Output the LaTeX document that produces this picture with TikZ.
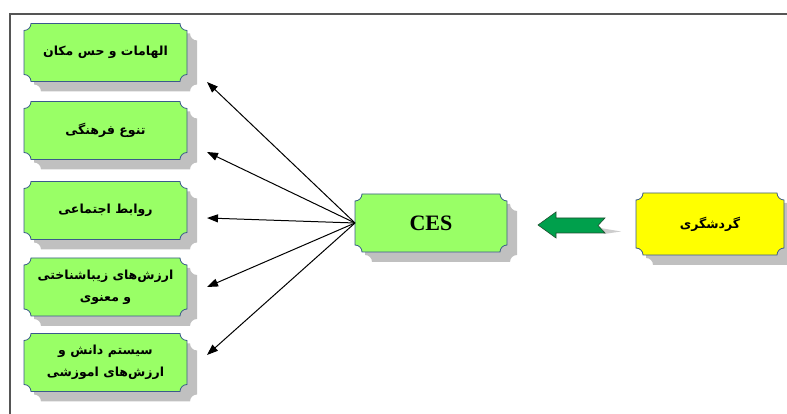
\documentclass[tikz,border=0pt]{standalone}
\usepackage{fontspec}
\setmainfont{Liberation Serif}
\newfontfamily\fafont[Script=Arabic]{DejaVu Sans}
\TeXXeTstate=1
\usetikzlibrary{arrows.meta,backgrounds,calc}
\definecolor{boxgreen}{HTML}{99FF66}
\definecolor{boxyellow}{HTML}{FFFF00}
\definecolor{boxline}{HTML}{3A5A8C}
\definecolor{shadowgray}{HTML}{C0C0C0}
\definecolor{arrowgreen}{HTML}{00A04C}
\definecolor{arrowdark}{HTML}{1F4F2F}
\definecolor{framegray}{HTML}{555555}
% plaque outline (rectangle with concave corners) round a node, shifted by (#2,#3)
\newcommand\plaque[4]{%
  \path[#4] let \p1=(#1.south west), \p2=(#1.north east),
      \p3=($(\x1+#2,\y1+#3)$), \p4=($(\x2+#2,\y2+#3)$) in
    (\x3+7pt,\y4) -- (\x4-7pt,\y4) arc[start angle=180,end angle=270,radius=7pt]
    -- (\x4,\y3+7pt) arc[start angle=90,end angle=180,radius=7pt]
    -- (\x3+7pt,\y3) arc[start angle=0,end angle=90,radius=7pt]
    -- (\x3,\y4-7pt) arc[start angle=270,end angle=360,radius=7pt] -- cycle;}
\newcommand\plaquebox[2]{%
  \plaque{#1}{10pt}{-10pt}{shadowstyle}%
  \plaque{#1}{0pt}{0pt}{facestyle, fill=#2}}
\tikzset{
  plaq/.style={inner sep=0pt, outer sep=0pt, align=center},
  leftbox/.style={plaq, minimum width=163pt, minimum height=58pt,
    font=\fafont\bfseries\fontsize{12.5}{22}\selectfont},
  conn/.style={-{Triangle[length=11pt,width=8pt]}, line width=1pt, black},
  shadowstyle/.style={fill=shadowgray},
  facestyle/.style={draw=boxline, line width=0.8pt},
  frame/.style={draw=framegray, line width=1.5pt},
  bigarrow/.style={fill=arrowgreen, draw=arrowdark, line width=0.6pt, line join=miter}
}
\begin{document}
\begin{tikzpicture}[x=1pt,y=1pt]
\useasboundingbox (0,0) rectangle (787,414);
% frame
\draw[frame] (10,0) -- (10,400) -- (787,400);

% left boxes
\node[leftbox] (b1) at (105.5,361.5) {\beginR الهامات و حس مکان\endR};
\node[leftbox] (b2) at (105.5,283.5) {\beginR تنوع فرهنگی\endR};
\node[leftbox] (b3) at (105.5,203.5) {\beginR روابط اجتماعی\endR};
\node[leftbox] (b4) at (105.5,127) {\beginR ارزش‌های زیباشناختی\endR\\\beginR و معنوی\endR};
\node[leftbox] (b5) at (105.5,51.5) {\beginR سیستم دانش و\endR\\\beginR ارزش‌های اموزشی\endR};

% centre and right boxes
\node[plaq, minimum width=152pt, minimum height=58pt,
  font=\bfseries\fontsize{22}{26}\selectfont] (ces) at (431,191) {CES};
\node[plaq, minimum width=148pt, minimum height=62pt,
  font=\fafont\bfseries\fontsize{12.5}{22}\selectfont] (yel) at (710,190) {\beginR گردشگری\endR};

\begin{scope}[on background layer]
\plaquebox{b1}{boxgreen}
\plaquebox{b2}{boxgreen}
\plaquebox{b3}{boxgreen}
\plaquebox{b4}{boxgreen}
\plaquebox{b5}{boxgreen}
\plaquebox{ces}{boxgreen}
\plaquebox{yel}{boxyellow}
\end{scope}

% arrow targets
\coordinate (t1) at (207,332);
\coordinate (t2) at (207,262);
\coordinate (t3) at (207,196);
\coordinate (t4) at (207,127);
\coordinate (t5) at (207,59);
\draw[conn] (ces.west) -- (t1);
\draw[conn] (ces.west) -- (t2);
\draw[conn] (ces.west) -- (t3);
\draw[conn] (ces.west) -- (t4);
\draw[conn] (ces.west) -- (t5);

% green block arrow
\fill[shadowgray!80] (600,186) -- (621,182.5) -- (604,180) -- cycle;
\draw[bigarrow] (538,189) -- (556,202) -- (556,196) -- (605,196) -- (598,188.5)
  -- (605,181) -- (556,181) -- (556,176) -- cycle;
\end{tikzpicture}
\end{document}
